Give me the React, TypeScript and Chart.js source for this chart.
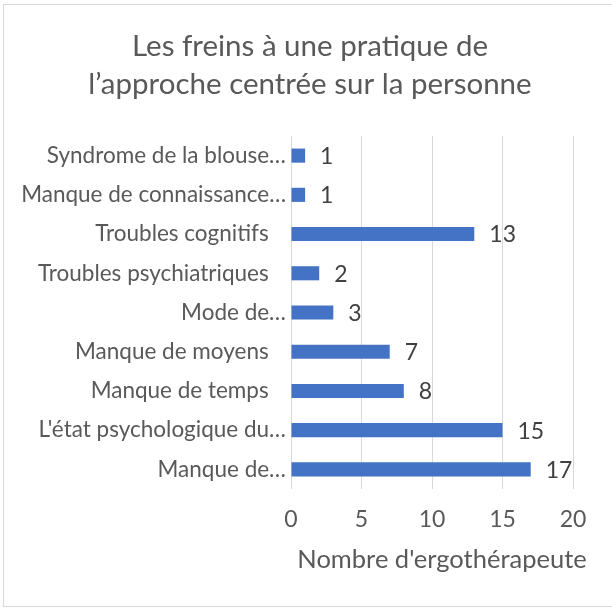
import React, { useEffect, useRef } from "react";
import { Chart, registerables } from "chart.js";

Chart.register(...registerables);

const titleLines = ["Les freins à une pratique de", "l’approche centrée sur la personne"];
const categories = [
  "Syndrome de la blouse…",
  "Manque de connaissance…",
  "Troubles cognitifs   ",
  "Troubles psychiatriques   ",
  "Mode de…",
  "Manque de moyens   ",
  "Manque de temps   ",
  "L'état psychologique du…",
  "Manque de…",
];
const values = [1, 1, 13, 2, 3, 7, 8, 15, 17];
const xMin = 0;
const xMax = 20;
const xStep = 5;
const xTitle = "Nombre d'ergothérapeute";

const FONT = "Lato";
const TEXT = "#595959";
const LABEL = "#404040";
const BAR = "#4472C4";
const GRID = "#D9D9D9";

const valueLabels = {
  id: "valueLabels",
  afterDatasetsDraw(chart: any) {
    const ctx = chart.ctx;
    const meta = chart.getDatasetMeta(0);
    ctx.save();
    ctx.font = `23px ${FONT}`;
    ctx.fillStyle = LABEL;
    ctx.textAlign = "left";
    ctx.textBaseline = "middle";
    meta.data.forEach((bar: any, i: number) => {
      ctx.fillText(String(chart.data.datasets[0].data[i]), bar.x + 15, bar.y + 1);
    });
    ctx.restore();
  },
};

const texts = {
  id: "texts",
  afterDraw(chart: any) {
    const ctx = chart.ctx;
    const area = chart.chartArea;
    ctx.save();
    ctx.fillStyle = TEXT;
    ctx.textAlign = "center";
    ctx.textBaseline = "alphabetic";
    ctx.font = `29.5px ${FONT}`;
    ctx.fillText(titleLines[0], 310, 56);
    ctx.fillText(titleLines[1], 310, 94);
    ctx.font = `25.5px ${FONT}`;
    ctx.fillText(xTitle, (area.left + area.right) / 2 + 10, 568);
    ctx.restore();
  },
};

export default function App() {
  const ref = useRef<HTMLCanvasElement>(null);

  useEffect(() => {
    document.body.style.margin = "0";
    const chart = new Chart(ref.current!, {
      type: "bar",
      data: {
        labels: categories,
        datasets: [
          {
            data: values,
            backgroundColor: BAR,
            categoryPercentage: 1,
            barPercentage: 0.36,
          },
        ],
      },
      options: {
        indexAxis: "y",
        animation: false,
        responsive: false,
        maintainAspectRatio: false,
        layout: { padding: { left: 0, right: 39, top: 136, bottom: 0 } },
        plugins: {
          legend: { display: false },
          tooltip: { enabled: false },
          title: { display: false },
        },
        scales: {
          x: {
            min: xMin,
            max: xMax,
            ticks: {
              stepSize: xStep,
              color: TEXT,
              font: { family: FONT, size: 23 },
              padding: 17,
            },
            grid: { color: GRID, lineWidth: 1, drawTicks: false },
            border: { display: false },
            afterFit(scale: any) {
              scale.height = 119;
            },
          },
          y: {
            ticks: {
              color: TEXT,
              font: { family: FONT, size: 22.5 },
              padding: 5,
              autoSkip: false,
            },
            grid: { display: false, drawTicks: false },
            border: { display: false },
            afterFit(scale: any) {
              scale.width = 291;
            },
          },
        },
      },
      plugins: [valueLabels, texts],
    });
    return () => chart.destroy();
  }, []);

  return (
    <div style={{ position: "relative", width: 612, height: 608, overflow: "hidden", background: "#fff" }}>
      <div
        style={{
          position: "absolute",
          left: 3,
          top: 4,
          width: 640,
          height: 603,
          boxSizing: "border-box",
          border: `1px solid ${GRID}`,
        }}
      />
      <canvas ref={ref} width={612} height={608} style={{ position: "absolute", left: 0, top: 0, width: 612, height: 608 }} />
    </div>
  );
}
